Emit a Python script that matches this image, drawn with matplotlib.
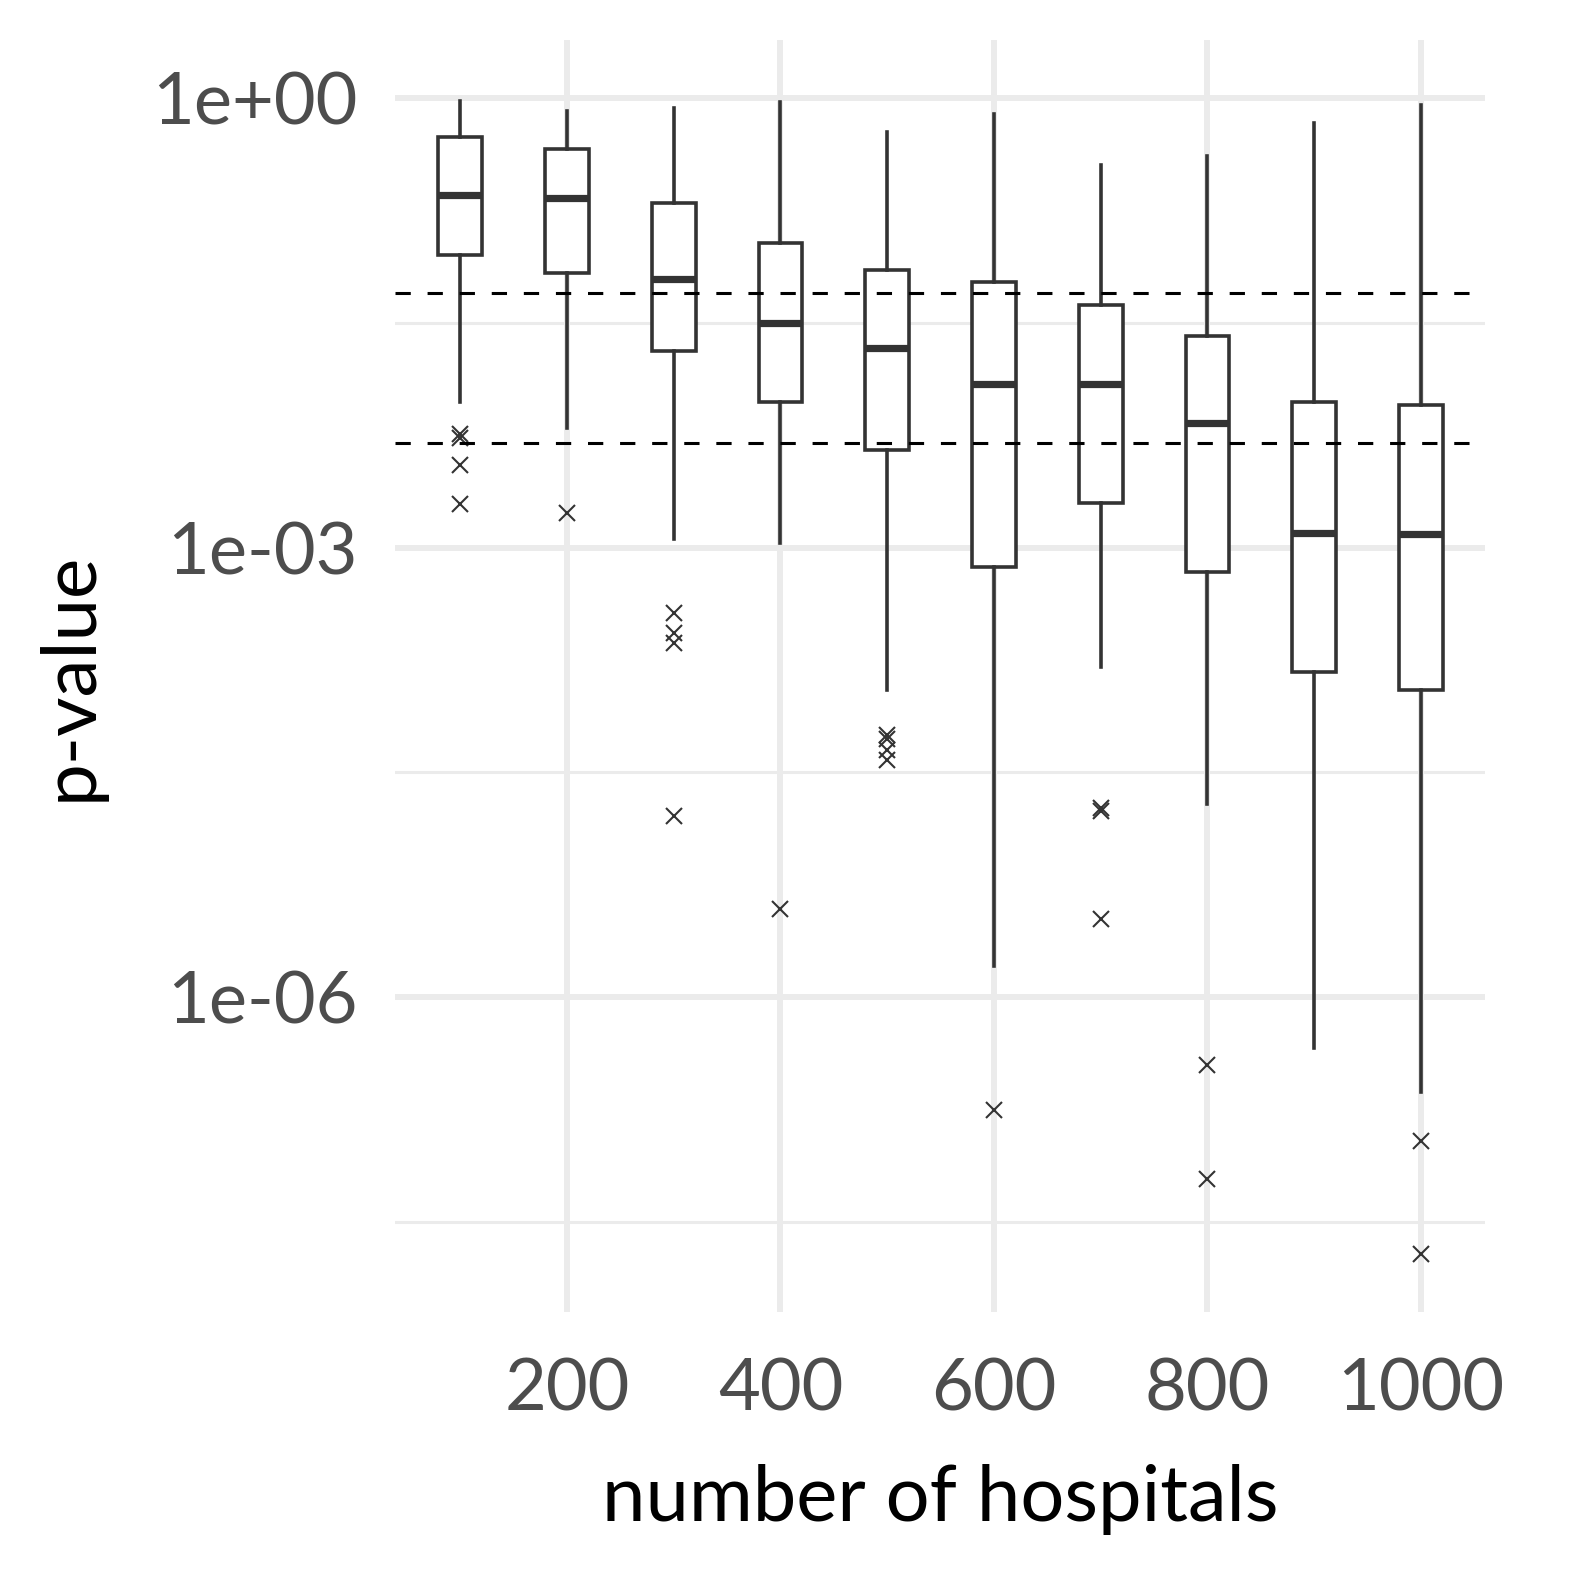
import numpy as np
import matplotlib.pyplot as plt

plt.rcParams['font.family'] = ['Lato', 'DejaVu Sans']

# box statistics (log10 of p-value)
hospitals = [100, 200, 300, 400, 500, 600, 700, 800, 900, 1000]
whi_hi = [-0.02, -0.09, -0.07, -0.03, -0.23, -0.11, -0.45, -0.39, -0.17, -0.05]
q3 = [-0.26, -0.34, -0.70, -0.97, -1.15, -1.23, -1.38, -1.59, -2.03, -2.05]
med = [-0.65, -0.67, -1.21, -1.50, -1.67, -1.91, -1.91, -2.17, -2.90, -2.91]
q1 = [-1.05, -1.17, -1.69, -2.03, -2.35, -3.13, -2.70, -3.16, -3.83, -3.95]
whi_lo = [-2.03, -2.20, -2.94, -2.97, -3.95, -5.79, -3.80, -4.71, -6.34, -6.63]
outliers = [
    [-2.24, -2.27, -2.45, -2.71],
    [-2.77],
    [-3.44, -3.57, -3.64, -4.79],
    [-5.41],
    [-4.25, -4.28, -4.35, -4.42],
    [-6.75],
    [-4.74, -4.76, -5.48],
    [-6.45, -7.21],
    [],
    [-6.96, -7.71],
]
thresholds = [0.05, 0.005]

stats = []
for i in range(len(hospitals)):
    stats.append(dict(
        whishi=10 ** whi_hi[i], q3=10 ** q3[i], med=10 ** med[i],
        q1=10 ** q1[i], whislo=10 ** whi_lo[i],
        fliers=[10 ** v for v in outliers[i]],
    ))

fig = plt.figure(figsize=(15.75, 15.75), dpi=100)
ax = fig.add_axes([0.2508, 0.167, 0.6921, 0.8076])
ax.set_yscale('log')

grid = '#EBEBEB'
for y in [1, 1e-3, 1e-6]:
    ax.axhline(y, color=grid, lw=4.3, zorder=0)
for y in [10 ** -1.5, 10 ** -4.5, 10 ** -7.5]:
    ax.axhline(y, color=grid, lw=2.2, zorder=0)
for x in [200, 400, 600, 800, 1000]:
    ax.axvline(x, color=grid, lw=4.3, zorder=0)

dark = '#333333'
ax.bxp(stats, positions=hospitals, widths=41, showcaps=False, patch_artist=True,
       boxprops=dict(facecolor='white', edgecolor=dark, linewidth=2.6),
       whiskerprops=dict(color=dark, linewidth=2.6),
       medianprops=dict(color=dark, linewidth=5.2, solid_capstyle='butt'),
       flierprops=dict(marker='x', markersize=12, markeredgecolor=dark,
                       markeredgewidth=1.5),
       zorder=2)

for t in thresholds:
    ax.axhline(t, color='black', lw=2.2, ls=(0, (5, 5.5)), zorder=3)

ax.set_xlim(39, 1060)
ax.set_ylim(10 ** -8.1, 10 ** 0.386)
ax.set_xticks([200, 400, 600, 800, 1000])
ax.set_xticklabels(['200', '400', '600', '800', '1000'])
ax.set_yticks([1, 1e-3, 1e-6])
ax.set_yticklabels(['1e+00', '1e-03', '1e-06'])
ax.minorticks_off()
ax.tick_params(axis='both', length=0, labelsize=52, labelcolor='#4D4D4D')
ax.tick_params(axis='x', pad=33)
ax.tick_params(axis='y', pad=27)
for s in ax.spines.values():
    s.set_visible(False)

ax.set_xlabel('number of hospitals', fontsize=56, labelpad=30)
ax.set_ylabel('p-value', fontsize=55, labelpad=34)

fig.savefig('out.png', dpi=100)
